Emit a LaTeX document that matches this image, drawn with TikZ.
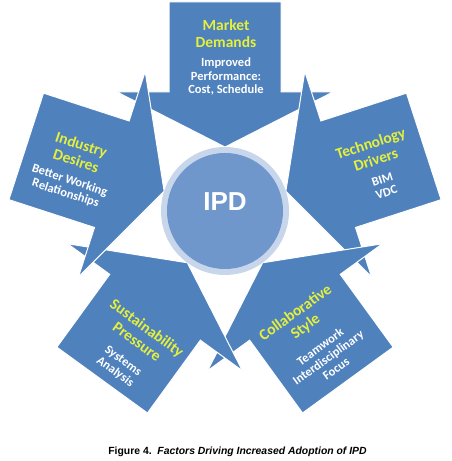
\documentclass[tikz,border=0pt]{standalone}
\usepackage{fontspec}
\setmainfont{Carlito}
\newfontfamily\arialfont{Liberation Sans}
\usetikzlibrary{calc}
\definecolor{shapeblue}{RGB}{79,129,189}
\definecolor{ringcol}{RGB}{200,214,236}
\definecolor{ipdcol}{RGB}{112,151,204}
\definecolor{titleyellow}{RGB}{228,240,60}
\tikzset{
  arrowshape/.style={fill=shapeblue, draw=white, line width=1pt, line join=miter},
  titletext/.style={text=titleyellow, font=\fontsize{15.5}{17}\selectfont\bfseries, align=center, inner sep=0pt},
  subtext/.style={text=white, font=\fontsize{12.5}{13.5}\selectfont\bfseries, align=center, inner sep=0pt},
}
\begin{document}
\begin{tikzpicture}[x=1pt,y=1pt]
\useasboundingbox (0,0) rectangle (452,461);
\coordinate (C) at (225,250);
% five arrows pointing to the centre
\foreach \k in {0,...,4}{
  \begin{scope}[shift={(C)}, rotate=-72*\k]
    \draw[arrowshape] (-56,209) -- (56,209) -- (56,119) -- (108,119) -- (0,64) -- (-108,119) -- (-56,119) -- cycle;
  \end{scope}
}
% centre circle
\node[circle, fill=ringcol, minimum size=128pt, inner sep=0pt] (ring) at (C) {};
\node[circle, fill=ipdcol, minimum size=116pt, inner sep=0pt] (ipd) at (C) {};
\node[text=white, font=\arialfont\bfseries\fontsize{26}{26}\selectfont, inner sep=0pt] (ipdtext) at ($(C)+(0,9.5)$) {IPD};
% texts
\begin{scope}[shift={(226,403.5)}, rotate=0, transform shape]
  \node[titletext] (t0) at (0,24) {Market\\Demands};
  \node[subtext] (s0) at (0,-19) {Improved\\Performance:\\Cost, Schedule};
\end{scope}
\begin{scope}[shift={(378.5,293)}, rotate=18, transform shape]
  \node[titletext] (t1) at (0,17.25) {Technology\\Drivers};
  \node[subtext] (s1) at (0,-19) {BIM\\VDC};
\end{scope}
\begin{scope}[shift={(316,120)}, rotate=36, transform shape]
  \node[titletext] (t2) at (0,26) {Collaborative\\Style};
  \node[subtext] (s2) at (0,-20.5) {Teamwork\\Interdisciplinary\\Focus};
\end{scope}
\begin{scope}[shift={(131,111)}, rotate=-36, transform shape]
  \node[titletext] (t3) at (0,19) {Sustainability\\Pressure};
  \node[subtext] (s3) at (0,-20.5) {Systems\\Analysis};
\end{scope}
\begin{scope}[shift={(73.5,292)}, rotate=-18, transform shape]
  \node[titletext] (t4) at (0,17.25) {Industry\\Desires};
  \node[subtext] (s4) at (0,-19) {Better Working\\Relationships};
\end{scope}
% caption
\node[font=\arialfont\bfseries\fontsize{10.4}{10.4}\selectfont, inner sep=0pt] (cap) at (237.5,9.5) {Figure 4.\ \ \textit{Factors Driving Increased Adoption of IPD}};
\end{tikzpicture}
\end{document}
